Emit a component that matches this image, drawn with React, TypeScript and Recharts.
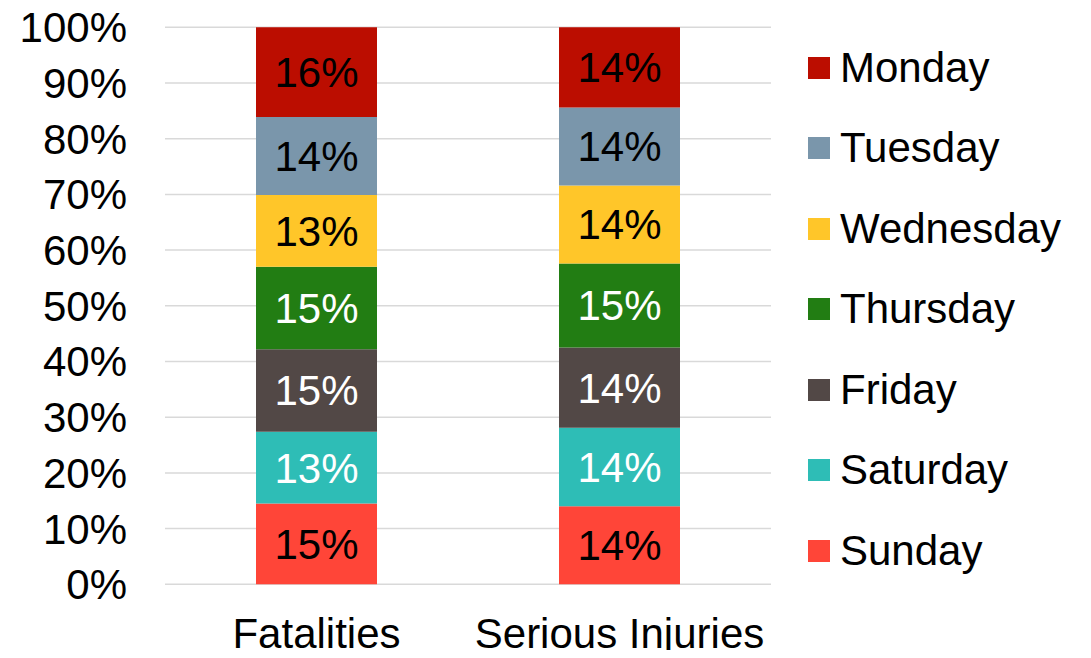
import * as React from 'react';
import { BarChart, Bar, XAxis, YAxis, CartesianGrid, Legend, LabelList } from 'recharts';

const categories = ['Fatalities', 'Serious Injuries'];

// stacking order, bottom to top
const days = ['Sunday', 'Saturday', 'Friday', 'Thursday', 'Wednesday', 'Tuesday', 'Monday'];

const sunday = [14.5, 14.0];
const saturday = [12.9, 14.1];
const friday = [14.8, 14.4];
const thursday = [14.8, 15.1];
const wednesday = [12.9, 14.0];
const tuesday = [14.0, 14.0];
const monday = [16.1, 14.4];

const seriesValues = [sunday, saturday, friday, thursday, wednesday, tuesday, monday];

const dayColors = ['#FF4538', '#2EBDB6', '#524846', '#227D13', '#FFC629', '#7A96AB', '#BB0D00'];
const labelColors = ['#000', '#fff', '#fff', '#fff', '#000', '#000', '#000'];

const yTicks = [0, 10, 20, 30, 40, 50, 60, 70, 80, 90, 100];

const data = categories.map((name, i) => {
  const row: Record<string, string | number> = { name };
  days.forEach((d, j) => {
    row[d] = seriesValues[j][i];
  });
  return row;
});

const FONT = '"Liberation Sans", Arial, sans-serif';
const FS = 42;

function DayLegend() {
  // top to bottom: Monday ... Sunday
  const order = [...days].reverse();
  const colors = [...dayColors].reverse();
  return (
    <div style={{ paddingLeft: 37 }}>
      {order.map((d, i) => (
        <div
          key={d}
          style={{ height: 80.5, display: 'flex', alignItems: 'center', fontFamily: FONT, fontSize: FS, color: '#000', whiteSpace: 'nowrap' }}
        >
          <span style={{ width: 22, height: 22, background: colors[i], display: 'inline-block', marginRight: 10, flexShrink: 0 }} />
          <span>{d}</span>
        </div>
      ))}
    </div>
  );
}

export default function App() {
  // negative bottom margin cancels the body margin so the page does not scroll
  return (
    <div style={{ fontFamily: FONT, marginBottom: -8 }}>
      <style>{'.recharts-surface { overflow: visible; }'}</style>
      <BarChart
        width={1075}
        height={650}
        data={data}
        margin={{ top: 19.3, right: 22, bottom: 13.7, left: 0 }}
        barSize={121}
      >
        <CartesianGrid vertical={false} stroke="#d9d9d9" strokeWidth={1.5} />
        <XAxis
          dataKey="name"
          axisLine={false}
          tickLine={false}
          height={60}
          tickMargin={27.5}
          tick={{ fill: '#000', fontSize: FS, fontFamily: FONT }}
        />
        <YAxis
          domain={[0, 100]}
          ticks={yTicks}
          width={157}
          axisLine={false}
          tickLine={false}
          tickMargin={32}
          interval={0}
          tickFormatter={(v: number) => `${v}%`}
          tick={{ fill: '#000', fontSize: FS, fontFamily: FONT }}
        />
        <Legend
          layout="vertical"
          align="right"
          verticalAlign="top"
          width={290}
          wrapperStyle={{ width: 290 }}
          content={() => <DayLegend />}
        />
        {days.map((d, j) => (
          <Bar key={d} dataKey={d} stackId="a" fill={dayColors[j]} isAnimationActive={false}>
            <LabelList
              dataKey={d}
              position="center"
              formatter={(v: number) => `${Math.round(v)}%`}
              fill={labelColors[j]}
              style={{ fontSize: FS, fontFamily: FONT }}
            />
          </Bar>
        ))}
      </BarChart>
    </div>
  );
}
